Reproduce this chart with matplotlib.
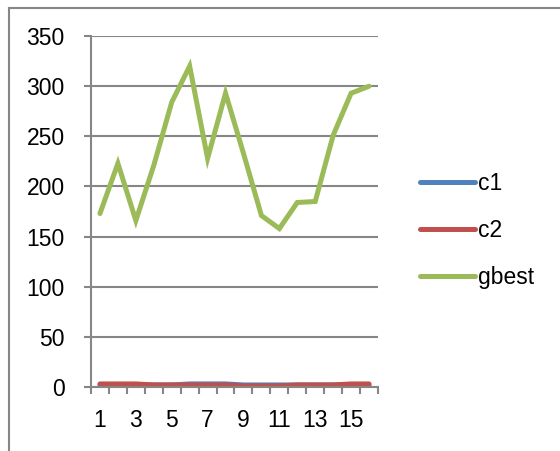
import matplotlib
matplotlib.use('Agg')
import matplotlib.pyplot as plt
from matplotlib import font_manager
from matplotlib.lines import Line2D
import numpy as np

# prefer a narrow sans if one is installed
installed = {f.name for f in font_manager.fontManager.ttflist}
narrow = [n for n in ['Liberation Sans Narrow', 'Arial Narrow', 'DejaVu Sans Condensed']
          if n in installed]
if narrow:
    plt.rcParams['font.family'] = [narrow[0], 'DejaVu Sans']
    fs = 18.5
else:
    plt.rcParams['font.family'] = ['Liberation Sans', 'DejaVu Sans']
    fs = 16.5

# iteration index and series
iters = list(range(1, 17))
c1 = [2, 2, 2, 2, 2, 3, 3, 3, 2, 2, 2, 2, 2, 2, 2, 2]
c2 = [3, 3, 3, 2, 2, 2, 2, 2, 1, 1, 1, 2, 2, 2, 3, 3]
gbest = [173, 223, 166, 221, 284, 320, 228, 293, 233, 171, 158, 184, 185, 251, 293, 300]
y_ticks = [0, 50, 100, 150, 200, 250, 300, 350]

grey = '#868686'
colors = {'c1': '#4F81BD', 'c2': '#C0504D', 'gbest': '#9BBB59'}

fig = plt.figure(figsize=(5.6, 4.51), dpi=100)
ax = fig.add_axes([0.1625, 0.142, 0.5125, 0.778])

# outer chart frame (runs off the right / bottom)
fig.add_artist(Line2D([8.5 / 560, 8.5 / 560], [0, 1 - 7.5 / 451],
                      transform=fig.transFigure, color=grey, lw=1.5))
fig.add_artist(Line2D([8.5 / 560, 1], [1 - 7.5 / 451, 1 - 7.5 / 451],
                      transform=fig.transFigure, color=grey, lw=1.5))

x = np.arange(len(iters))
lw = 3.6
ax.plot(x, c1, color=colors['c1'], lw=lw, solid_capstyle='round', label='c1')
ax.plot(x, c2, color=colors['c2'], lw=lw, solid_capstyle='round', label='c2')
ax.plot(x, gbest, color=colors['gbest'], lw=lw, solid_capstyle='round',
        solid_joinstyle='miter', label='gbest')

ax.set_xlim(-0.5, len(iters) - 0.5)
ax.set_ylim(0, 350)
ax.set_yticks(y_ticks)
ax.yaxis.grid(True, color=grey, lw=1.5)
ax.set_axisbelow(True)

# category labels on every other point, tick marks between categories
ax.set_xticks(x[::2])
ax.set_xticklabels([str(i) for i in iters[::2]])
ax.set_xticks(np.arange(-0.5, len(iters)), minor=True)
ax.tick_params(axis='x', which='major', length=0, pad=16, labelsize=fs)
ax.tick_params(axis='x', which='minor', length=5, width=1.5, color=grey, direction='out')
ax.tick_params(axis='y', length=5, width=1.5, color=grey, pad=14, labelsize=fs)

for s in ['top', 'right']:
    ax.spines[s].set_visible(False)
for s in ['left', 'bottom']:
    ax.spines[s].set_color(grey)
    ax.spines[s].set_linewidth(1.5)

ax.legend(loc='center left', bbox_to_anchor=(1.146, 0.447), frameon=False,
          fontsize=fs, handlelength=2.4, handletextpad=0.12, labelspacing=1.05,
          borderaxespad=0, borderpad=0)

fig.savefig('out.png', dpi=100)
